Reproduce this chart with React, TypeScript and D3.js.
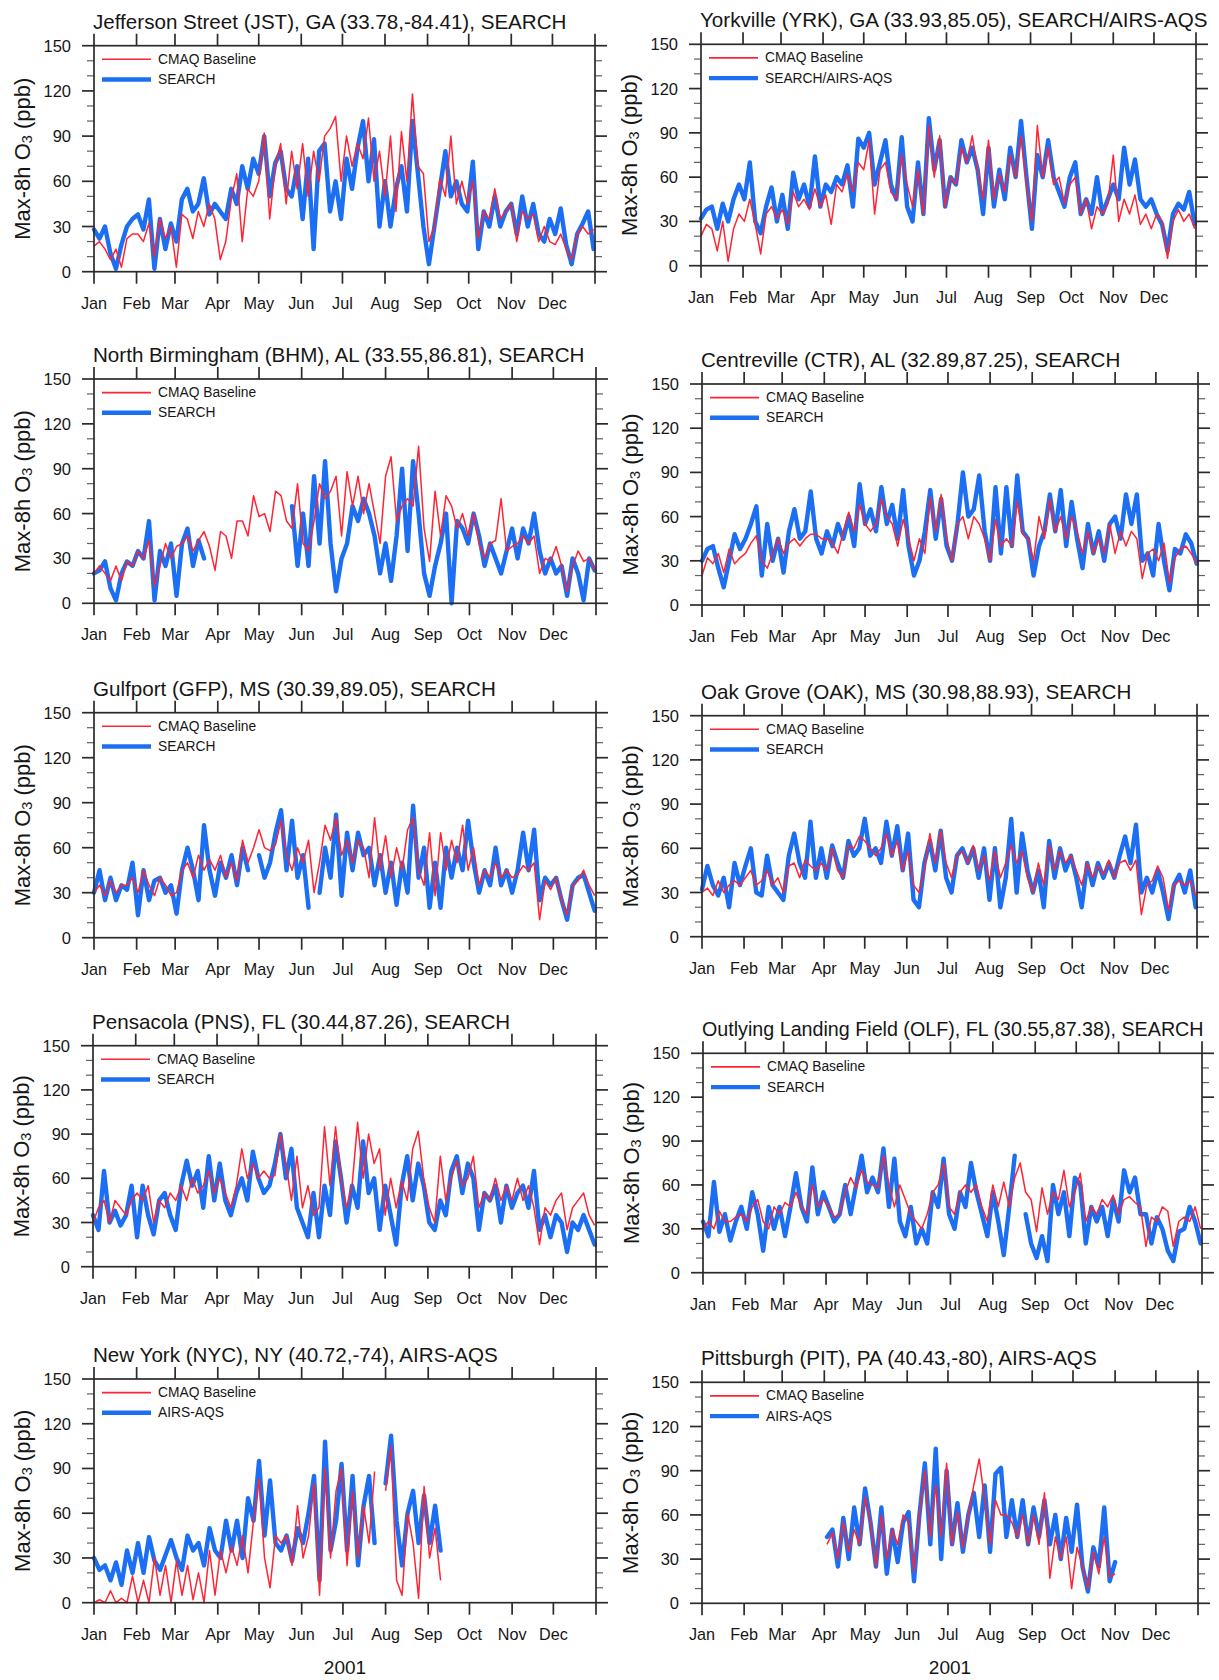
import React from 'react';
import * as d3 from 'd3';

// ---------------- data ----------------
// values sampled every STEP_DAYS days starting Jan 1 (day 0); null = missing
const STEP_DAYS = 4;
const monthLabels = ['Jan', 'Feb', 'Mar', 'Apr', 'May', 'Jun', 'Jul', 'Aug', 'Sep', 'Oct', 'Nov', 'Dec'];
const monthStarts = [0, 31, 59, 90, 120, 151, 181, 212, 243, 273, 304, 334];
const yearEnd = 365;
const yMajorTicks = [0, 30, 60, 90, 120, 150];
const yMinorTicks = [10, 20, 40, 50, 70, 80, 100, 110, 130, 140];
const yearLabel = '2001';
const modelName = 'CMAQ Baseline';

const _ = null;

const jstModel = [17,20,15,8,15,3,22,25, 25,20,32,10,35,22,30, 3,38,35,22,40,30,45,35, 8,20,48,65,20,55,50, 60,92,35,70,85,45,80,55, 85,50,80,60,90,95,103, 60,90,70,85,75,102,60,80, 50,90,40,93,60,118,70,65, 20,30,62,50,90,45,60, 45,60,22,40,35,55,35,40, 45,20,40,35,38,20,30, 20,18,25,15,8,25,30,25,28];
const jstObs = [28,22,30,12,2,18,30,35, 38,28,48,2,35,15,32, 20,48,55,40,45,62,38,45, 40,35,55,45,70,55,75, 65,90,50,72,80,55,50,70, 35,75,15,80,85,40,60, 35,75,55,82,100,60,88,30, 60,30,55,70,40,100,65,30, 5,30,55,80,50,60,45, 40,73,15,40,30,50,30,40, 45,25,50,30,45,25,20, 35,25,42,18,5,25,32,40,15];

const yrkModel = [20,28,25,10,30,3,25,35, 30,45,28,8,35,40,32, 38,28,50,40,45,38,52,40, 48,28,55,50,62,50,70, 65,85,35,65,70,50,45,75, 55,40,65,35,95,60,88, 40,60,55,80,70,88,65,45, 85,45,62,50,75,60,88,55, 30,95,60,80,55,60,42, 55,60,35,45,25,40,35,42, 75,30,45,35,48,28,35, 25,35,30,5,30,38,30,35,25];
const yrkObs = [32,38,40,25,42,30,45,55, 45,70,30,22,40,53,30, 48,25,63,45,55,40,74,40, 55,50,60,55,68,40,86, 80,90,55,70,85,55,45,87, 40,30,70,35,100,65,85, 40,60,55,85,70,80,65,35, 80,40,65,45,80,60,98,60, 25,75,60,85,60,50,40, 60,70,35,45,35,60,35,45, 55,45,80,55,72,45,40, 45,35,28,10,35,42,38,50,28];

const bhmModel = [20,25,20,15,25,15,28,25, 35,30,42,12,25,40,30, 38,40,45,35,42,48,38,22, 48,45,30,55,55,45,72, 58,60,48,75,72,55,50,80, 40,35,55,80,70,75,85, 45,88,65,85,60,80,60,40, 85,98,55,65,70,65,105,50, 28,75,45,72,65,50,60, 45,60,40,30,40,42,70,35, 38,40,45,40,45,20,30, 28,38,25,8,25,35,28,30,22];
const bhmObs = [20,22,28,10,2,20,28,25, 35,30,55,2,35,25,40, 5,40,50,25,42,30,_,_, _,_,_,_,_,_,_, _,_,_,_,_,_,65,25, 60,25,85,40,95,40,8, 30,40,65,55,70,60,45,20, 40,15,45,90,35,95,60,20, 5,25,40,60,0,55,50, 40,60,45,25,40,30,20,35, 50,30,50,40,60,35,20, 30,20,25,5,30,20,2,30,22];

const ctrModel = [20,32,28,35,22,38,28,32, 35,42,47,30,25,35,45, 35,42,45,40,45,48,48,45, 45,42,35,50,63,50,68, 55,50,55,72,60,55,40,58, 45,30,45,35,73,50,75, 45,30,55,60,45,60,55,45, 30,58,40,45,40,70,48,45, 30,60,45,72,50,60,45, 60,50,35,50,35,45,35,55, 35,50,40,50,45,18,35, 38,30,42,15,32,38,40,35,28];
const ctrObs = [30,38,40,25,12,30,48,38, 45,55,67,20,55,30,45, 22,50,65,45,50,77,45,35, 50,40,55,45,60,40,82, 55,65,50,80,55,68,45,78, 40,20,30,50,78,45,72, 40,30,55,90,60,65,88,50, 30,80,35,80,40,88,50,45, 20,40,50,75,50,78,40, 70,45,25,55,35,50,30,55, 60,45,75,55,75,30,35, 20,55,30,10,38,35,48,42,28];

const gfpModel = [30,35,28,38,30,35,35,40, 30,45,35,28,40,35,28, 30,45,50,40,55,45,52,45, 55,40,50,38,65,50,60, 72,60,58,62,78,55,45,60, 50,65,30,50,75,65,80, 55,65,50,65,60,40,80,45, 68,40,60,45,72,80,45,35, 70,28,70,45,65,50,75, 45,60,35,45,40,50,40,45, 40,42,48,45,50,12,38, 32,40,25,15,35,38,45,35,28];
const gfpObs = [30,45,25,40,25,35,32,50, 15,45,25,38,40,30,35, 16,45,60,45,25,75,45,28, 50,40,55,35,60,45,_, 55,40,50,70,85,45,78,40, 55,20,_,30,60,40,82, 28,70,45,70,55,60,35,55, 30,50,22,50,30,88,40,60, 20,50,20,60,40,60,45, 78,50,30,45,35,60,35,45, 30,45,70,45,72,25,40, 35,40,25,12,35,40,42,30,18];

const oakModel = [30,33,28,38,30,35,38,35, 40,45,35,38,45,35,40, 30,48,50,40,52,48,45,50, 45,60,45,40,62,60,68, 65,60,55,60,70,55,65,45, 58,35,30,45,70,50,72, 50,40,55,58,50,62,45,55, 38,58,40,50,62,50,58,40, 30,50,35,62,45,58,50, 55,45,35,50,40,48,42,52, 40,50,52,45,52,15,35, 38,48,40,18,35,38,35,38,28];
const oakObs = [32,48,35,28,40,20,50,35, 48,60,30,28,55,35,30, 25,55,70,50,40,78,40,60, 40,62,50,40,65,55,60, 80,55,60,50,78,55,75,45, 70,25,20,50,65,45,72, 40,30,55,60,50,60,40,60, 25,60,20,40,80,30,70,45, 30,45,20,65,40,60,45, 55,40,20,50,35,50,40,50, 40,55,68,50,76,30,40, 30,45,30,12,35,42,30,45,20];

const pnsModel = [30,40,45,30,45,40,35,45, 50,45,55,30,45,40,50, 45,55,45,60,50,55,65,50, 60,50,40,55,80,60,70, 60,65,60,62,90,70,45,75, 40,55,35,40,95,55,95, 60,40,55,98,60,90,70,80, 35,60,40,58,45,80,92,60, 40,30,75,45,60,72,55, 60,75,40,50,45,60,45,55, 45,60,45,55,40,15,40, 35,45,50,25,40,45,50,35,28];
const pnsObs = [35,25,65,30,38,28,35,55, 20,55,35,22,45,50,35, 25,55,72,55,65,40,75,45, 70,45,35,50,60,45,78, 60,50,55,70,90,60,80,40, 30,20,50,20,55,35,85, 60,30,55,40,85,50,60,25, 55,35,15,55,75,45,70,55, 30,25,45,35,65,75,50, 70,60,25,50,45,55,30,55, 40,50,55,40,65,25,35, 20,35,30,10,30,25,35,25,15];

const olfModel = [30,35,30,42,35,35,38,40, 35,45,50,35,30,45,40, 48,45,55,45,40,60,45,50, 45,38,40,55,65,58,70, 62,60,58,80,60,45,60,50, 40,35,30,40,55,60,75, 45,40,55,60,55,60,45,35, 60,45,62,45,65,75,55,50, 28,58,40,55,50,70,45, 55,68,35,45,40,50,45,53, 40,50,52,48,45,18,38, 35,45,42,18,35,38,35,45,30];
const olfObs = [35,25,62,28,40,22,35,45, 30,55,40,15,45,30,45, 25,45,68,45,35,72,40,55, 45,35,40,60,40,60,80, 55,65,55,85,45,78,35,25, 45,20,30,20,55,45,78, 40,30,55,45,75,55,40,25, 55,35,12,45,80,_,40,20, 10,25,8,60,40,55,25, 65,60,20,45,35,45,25,50, 35,70,55,65,40,40,20, 38,30,15,8,28,30,45,35,20];

const nycModel = [0,2,0,8,0,3,0,18, 0,15,0,30,5,25,0, 28,5,25,2,20,0,35,5, 35,20,38,25,45,20,55, 83,30,10,45,40,45,25,65, 30,45,80,5,90,30,75, 90,25,75,30,65,40,88,_, 75,105,15,5,60,40,3,78, 30,50,15,_,_,_,_, _,_,_,_,_,_,_,_, _,_,_,_,_,_,_, _,_,_,_,_,_,_,_,_];
const nycObs = [30,22,25,15,27,12,35,20, 40,20,44,28,22,32,42, 30,22,45,35,40,25,50,35, 30,55,35,55,30,70,55, 95,45,82,40,35,45,28,50, 40,60,85,15,108,35,55, 93,35,85,25,65,85,40,_, 80,112,55,25,60,75,40,72, 40,65,35,_,_,_,_, _,_,_,_,_,_,_,_, _,_,_,_,_,_,_, _,_,_,_,_,_,_,_,_];

const pitModel = [_,_,_,_,_,_,_,_, _,_,_,_,_,_,_, _,_,_,_,_,_,_,_, 40,48,30,55,35,50,40, 72,55,25,60,30,50,40,60, 55,22,60,90,45,80,45, 95,40,62,38,60,80,98,70, 40,70,60,60,55,45,60,40, 60,40,75,17,45,30,45, 10,38,25,10,35,20,45,18, 20,_,_,_,_,_,_, _,_,_,_,_,_,_,_,_];
const pitObs = [_,_,_,_,_,_,_,_, _,_,_,_,_,_,_, _,_,_,_,_,_,_,_, 45,50,25,58,30,65,40, 78,55,25,65,20,50,28,55, 62,15,60,95,40,105,30, 90,40,68,35,60,75,45,80, 35,88,92,45,70,45,70,40, 65,45,70,40,60,30,58, 35,67,25,8,38,25,65,15, 28,_,_,_,_,_,_, _,_,_,_,_,_,_,_,_];

// ---------------- layout ----------------
type Panel = {
  title: string;
  obsName: string;
  model: (number | null)[];
  obs: (number | null)[];
  box: [number, number, number, number]; // x0, x1, yTop, yBottom
  titleSize?: number;
  yearLabel?: boolean;
};

const panels: Panel[] = [
  { title: 'Jefferson Street (JST), GA (33.78,-84.41), SEARCH', obsName: 'SEARCH', model: jstModel, obs: jstObs, box: [94, 595, 45.7, 271.7] },
  { title: 'Yorkville (YRK), GA (33.93,85.05), SEARCH/AIRS-AQS', obsName: 'SEARCH/AIRS-AQS', model: yrkModel, obs: yrkObs, box: [701, 1196, 44.3, 265.7] },
  { title: 'North Birmingham (BHM), AL (33.55,86.81), SEARCH', obsName: 'SEARCH', model: bhmModel, obs: bhmObs, box: [94, 596, 379, 603.3] },
  { title: 'Centreville (CTR), AL (32.89,87.25), SEARCH', obsName: 'SEARCH', model: ctrModel, obs: ctrObs, box: [702, 1198, 384, 605] },
  { title: 'Gulfport (GFP), MS (30.39,89.05), SEARCH', obsName: 'SEARCH', model: gfpModel, obs: gfpObs, box: [94, 596, 712.7, 937.7] },
  { title: 'Oak Grove (OAK), MS (30.98,88.93), SEARCH', obsName: 'SEARCH', model: oakModel, obs: oakObs, box: [702, 1197, 715.7, 936.7] },
  { title: 'Pensacola (PNS), FL (30.44,87.26), SEARCH', obsName: 'SEARCH', model: pnsModel, obs: pnsObs, box: [93, 596, 1045.7, 1266.7] },
  { title: 'Outlying Landing Field (OLF), FL (30.55,87.38), SEARCH', obsName: 'SEARCH', model: olfModel, obs: olfObs, box: [703, 1202, 1053.3, 1272.7], titleSize: 19.7 },
  { title: 'New York (NYC), NY (40.72,-74), AIRS-AQS', obsName: 'AIRS-AQS', model: nycModel, obs: nycObs, box: [94, 596, 1379, 1602.7], yearLabel: true },
  { title: 'Pittsburgh (PIT), PA (40.43,-80), AIRS-AQS', obsName: 'AIRS-AQS', model: pitModel, obs: pitObs, box: [702, 1198, 1382.3, 1603.3], yearLabel: true },
];

const FONT = '"Liberation Sans", Arial, Helvetica, sans-serif';
const TEXT = '#161616';
const AXIS = '#2b2b2b';
const RED = '#ff2434';
const BLUE = '#1c6ff2';

function PanelView({ p }: { p: Panel }) {
  const [x0, x1, yT, yB] = p.box;
  const x = d3.scaleLinear().domain([0, yearEnd]).range([x0, x1]);
  const y = d3.scaleLinear().domain([0, 150]).range([yB, yT]);
  const line = d3
    .line<number | null>()
    .defined((d) => d !== null && d !== undefined)
    .x((_d, i) => x(i * STEP_DAYS))
    .y((d) => y(d as number));
  const xTicks = [...monthStarts, yearEnd];
  const majorLen = 12;
  const minorLen = 7;
  const midY = (yT + yB) / 2;
  return (
    <g>
      <text x={x0 - 1} y={yT - 24.5} fontSize={p.titleSize ?? 20.6} fontFamily={FONT} fill={TEXT} dominantBaseline="central">
        {p.title}
      </text>
      {/* data */}
      <path d={line(p.obs) || ''} fill="none" stroke={BLUE} strokeWidth={4.4} strokeLinejoin="round" strokeLinecap="round" />
      <path d={line(p.model) || ''} fill="none" stroke={RED} strokeWidth={1.5} strokeLinejoin="round" />
      {/* frame */}
      <rect x={x0} y={yT} width={x1 - x0} height={yB - yT} fill="none" stroke={AXIS} strokeWidth={1.7} />
      {/* y ticks */}
      {yMajorTicks.map((t) => (
        <g key={'ym' + t}>
          <line x1={x0 - majorLen} x2={x0} y1={y(t)} y2={y(t)} stroke={AXIS} strokeWidth={1.7} />
          <line x1={x1} x2={x1 + majorLen} y1={y(t)} y2={y(t)} stroke={AXIS} strokeWidth={1.7} />
          <text x={x0 - 23} y={y(t)} fontSize={16.5} fontFamily={FONT} fill={TEXT} textAnchor="end" dominantBaseline="central">
            {t}
          </text>
        </g>
      ))}
      {yMinorTicks.map((t) => (
        <g key={'yn' + t}>
          <line x1={x0 - minorLen} x2={x0} y1={y(t)} y2={y(t)} stroke={AXIS} strokeWidth={1.2} opacity={0.75} />
          <line x1={x1} x2={x1 + minorLen} y1={y(t)} y2={y(t)} stroke={AXIS} strokeWidth={1.2} opacity={0.75} />
        </g>
      ))}
      {/* x ticks */}
      {xTicks.map((t) => (
        <g key={'x' + t}>
          <line x1={x(t)} x2={x(t)} y1={yT - majorLen} y2={yT} stroke={AXIS} strokeWidth={1.7} />
          <line x1={x(t)} x2={x(t)} y1={yB} y2={yB + majorLen} stroke={AXIS} strokeWidth={1.7} />
        </g>
      ))}
      {monthStarts.map((t, i) => (
        <text key={'ml' + i} x={x(t)} y={yB + 31} fontSize={16.2} fontFamily={FONT} fill={TEXT} textAnchor="middle" dominantBaseline="central">
          {monthLabels[i]}
        </text>
      ))}
      {/* y title */}
      <text
        transform={`translate(${x0 - 72},${midY}) rotate(-90)`}
        fontSize={22}
        fontFamily={FONT}
        fill={TEXT}
        textAnchor="middle"
        dominantBaseline="central"
      >
        <tspan>Max-8h O</tspan>
        <tspan fontSize={14.5} dy={5}>3</tspan>
        <tspan dy={-5}> (ppb)</tspan>
      </text>
      {/* legend */}
      <line x1={x0 + 8} x2={x0 + 57} y1={yT + 13.6} y2={yT + 13.6} stroke={RED} strokeWidth={1.6} />
      <text x={x0 + 64} y={yT + 13.6} fontSize={13.8} fontFamily={FONT} fill={TEXT} dominantBaseline="central">
        {modelName}
      </text>
      <line x1={x0 + 8} x2={x0 + 57} y1={yT + 33.8} y2={yT + 33.8} stroke={BLUE} strokeWidth={4.4} />
      <text x={x0 + 64} y={yT + 33.8} fontSize={13.8} fontFamily={FONT} fill={TEXT} dominantBaseline="central">
        {p.obsName}
      </text>
      {p.yearLabel && (
        <text x={(x0 + x1) / 2} y={1667} fontSize={19} fontFamily={FONT} fill={TEXT} textAnchor="middle" dominantBaseline="central">
          {yearLabel}
        </text>
      )}
    </g>
  );
}

export default function App() {
  return (
    <svg
      width={1219}
      height={1680}
      viewBox="0 0 1219 1680"
      style={{ position: 'absolute', left: 0, top: 0, background: '#fff' }}
    >
      <rect x={0} y={0} width={1219} height={1680} fill="#fff" />
      {panels.map((p, i) => (
        <PanelView key={i} p={p} />
      ))}
    </svg>
  );
}
